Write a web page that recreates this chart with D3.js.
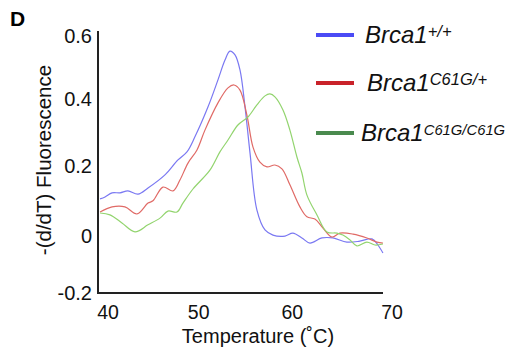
<!DOCTYPE html>
<html><head><meta charset="utf-8">
<script src="https://cdn.jsdelivr.net/npm/d3@7"></script>
<style>html,body{margin:0;padding:0;background:#fff;overflow:hidden}svg{display:block;font-family:Arial,"Liberation Sans",sans-serif}</style>
</head><body><svg id="c" width="510" height="349"></svg>
<script>
const xTicks = [40, 50, 60, 70];
const yTicks = [-0.2, 0, 0.2, 0.4, 0.6];
const yTickLabels = ["-0.2", "0", "0.2", "0.4", "0.6"];
const seriesNames = ["+/+", "C61G/+", "C61G/C61G"];
const tempBlue = [39.15,39.68,40.43,41.28,42.13,43.2,44.27,46.08,47.47,48.43,49.28,50.67,51.74,52.49,53.02,53.56,54.09,54.63,55.16,55.9,56.76,57.61,58.89,59.74,60.7,61.56,62.84,64.01,65.51,66.89,68.18,68.82,69.35];
const valBlue = [0.094,0.1,0.113,0.113,0.119,0.109,0.128,0.169,0.216,0.241,0.288,0.381,0.466,0.528,0.556,0.544,0.497,0.381,0.238,0.059,-0.003,-0.019,-0.022,-0.013,-0.028,-0.044,-0.028,-0.028,-0.041,-0.038,-0.031,-0.05,-0.075];
const tempRed = [39.15,40.43,41.81,43.09,44.27,44.8,45.87,46.94,47.68,48.54,49.5,50.35,51.74,52.81,53.45,54.09,54.83,55.48,56.22,56.97,57.82,58.57,59.42,60.49,61.24,62.09,62.95,63.91,64.76,66.15,67.64,68.71,69.35];
const valRed = [0.053,0.069,0.069,0.047,0.081,0.088,0.131,0.119,0.153,0.206,0.247,0.309,0.394,0.441,0.45,0.434,0.356,0.256,0.209,0.194,0.2,0.188,0.138,0.069,0.038,0.031,0.003,-0.025,-0.013,-0.016,-0.028,-0.041,-0.044];
const tempGreen = [39.15,40.21,41.49,42.88,44.27,45.55,46.4,47.36,48.0,49.07,50.88,51.95,52.81,53.87,54.94,55.9,56.76,57.29,57.82,58.68,59.42,60.17,60.7,61.24,62.31,63.37,64.44,65.08,65.83,66.57,67.64,68.5,69.35];
const valGreen = [0.05,0.044,0.019,-0.009,0.013,0.034,0.056,0.053,0.081,0.125,0.184,0.241,0.278,0.325,0.35,0.388,0.416,0.422,0.413,0.372,0.309,0.225,0.175,0.106,0.044,-0.009,-0.013,-0.019,-0.034,-0.053,-0.041,-0.05,-0.047];

const svg = d3.select("#c");
const x = d3.scaleLinear().domain([40, 70]).range([108, 389]);
const y = d3.scaleLinear().domain([-0.2, 0.6]).range([293, 37]);
const xMin = x.invert(98), xMax = x.invert(383);

// panel letter
svg.append("text").attr("x", 10).attr("y", 26).attr("font-size", 21).attr("font-weight", "bold").text("D");

// axes lines
svg.append("line").attr("x1", x(xMin)).attr("x2", x(xMin)).attr("y1", 31).attr("y2", y(-0.2)).attr("stroke", "#222").attr("stroke-width", 2);
svg.append("line").attr("x1", x(xMin) - 1).attr("x2", x(xMax)).attr("y1", y(-0.2)).attr("y2", y(-0.2)).attr("stroke", "#222").attr("stroke-width", 2);

// y tick labels
const yAdj = [0, 7, 1, -2, -1];
svg.selectAll(".yl").data(yTicks).enter().append("text")
  .attr("x", 92).attr("y", (d, i) => y(d) + yAdj[i] + 7)
  .attr("text-anchor", "end").attr("font-size", 20).attr("fill", "#111")
  .text((d, i) => yTickLabels[i]);

// x tick labels
const xAdj = [0, -3, -3, 3];
svg.selectAll(".xl").data(xTicks).enter().append("text")
  .attr("x", (d, i) => x(d) + xAdj[i]).attr("y", 319)
  .attr("text-anchor", "middle").attr("font-size", 19.5).attr("fill", "#111").text(d => d);

// axis titles
svg.append("text").attr("x", 258).attr("y", 343).attr("text-anchor", "middle").attr("font-size", 20).attr("fill", "#111").text("Temperature (˚C)");
svg.append("text").attr("transform", "translate(51,160) rotate(-90)").attr("text-anchor", "middle").attr("font-size", 20.5).attr("fill", "#111").text("-(d/dT) Fluorescence");

// curves
const line = d3.line().x(d => x(d[0])).y(d => y(d[1])).curve(d3.curveCatmullRom.alpha(0.5));
const series = [
  {t: tempBlue, v: valBlue, c: "#7a78f2"},
  {t: tempRed, v: valRed, c: "#e06a66"},
  {t: tempGreen, v: valGreen, c: "#92d46e"}
];
series.forEach(s => {
  svg.append("path").attr("d", line(d3.zip(s.t, s.v))).attr("fill", "none")
    .attr("stroke", s.c).attr("stroke-width", 1.2);
});

// legend
const legColors = ["#4b4bf5", "#c9222a", "#4a8a4e"];
const legY = [35, 83, 133];
const legTx = [365, 367, 361];
const supSize = [16.5, 16.5, 14.8];
seriesNames.forEach((n, i) => {
  svg.append("line").attr("x1", 316).attr("x2", 354).attr("y1", legY[i]).attr("y2", legY[i])
    .attr("stroke", legColors[i]).attr("stroke-width", 4);
  const t = svg.append("text").attr("x", legTx[i]).attr("y", legY[i] + 8)
    .attr("font-size", 24).attr("font-style", "italic").attr("fill", "#111");
  t.append("tspan").text("Brca1");
  t.append("tspan").attr("font-size", supSize[i]).attr("dy", -6).text(n);
});
</script></body></html>
